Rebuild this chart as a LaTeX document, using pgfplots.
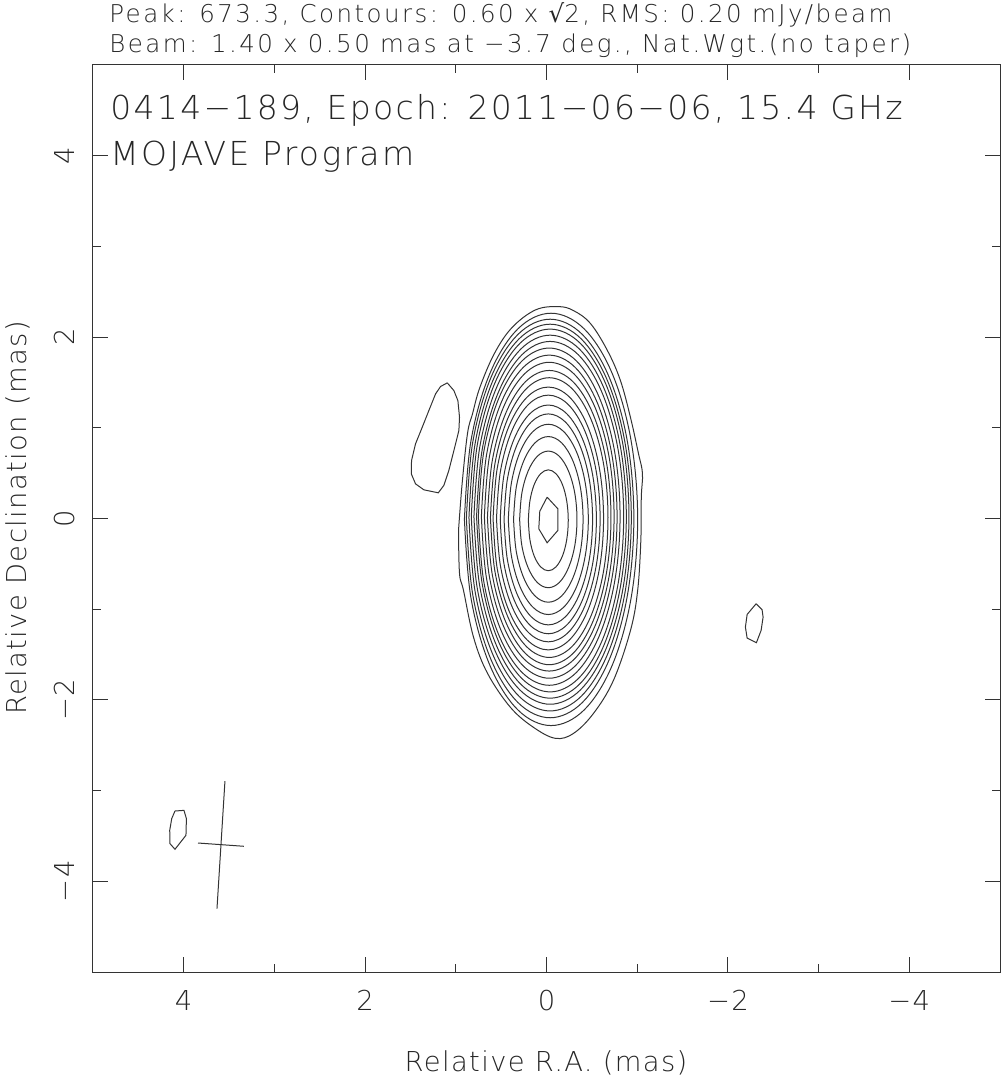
\documentclass[border=0pt]{standalone}
\usepackage{pgfplots}
\pgfplotsset{compat=1.18}
\usepackage{graphicx}
\usepackage{fontspec}
\setmainfont{DejaVu Sans ExtraLight}
\newfontfamily\djv{DejaVu Sans}
\newcommand{\topfont}{\fontsize{12.25pt}{15pt}\selectfont\addfontfeatures{LetterSpace=10}}
\newcommand{\bigfont}{\fontsize{16.5pt}{20pt}\selectfont\addfontfeatures{LetterSpace=7}}
\newcommand{\labfont}{\fontsize{13.7pt}{16pt}\selectfont\addfontfeatures{LetterSpace=5}}
\begin{document}
\begin{tikzpicture}
\useasboundingbox (-46.5pt,-53.5pt) rectangle (454pt,486pt);
\begin{axis}[
  at={(0pt,0pt)}, anchor=south west,
  scale only axis, width=453.5pt, height=453.5pt,
  xmin=-5, xmax=5, ymin=-5, ymax=5, x dir=reverse,
  xtick={-4,-2,0,2,4}, ytick={-4,-2,0,2,4},
  xticklabels={−4,−2,0,2,4},
  yticklabels={\rotatebox{90}{−4},\rotatebox{90}{−2},\rotatebox{90}{0},\rotatebox{90}{2},\rotatebox{90}{4}},
  minor xtick={-3,-1,1,3}, minor ytick={-3,-1,1,3},
  major tick length=7.5pt, minor tick length=4pt,
  tick style={black!80, line width=0.5pt},
  axis line style={black!80, line width=0.5pt},
  xticklabel style={font=\labfont, inner sep=0pt, anchor=north, yshift=-9pt, text=black!85},
  yticklabel style={font=\labfont, inner sep=0pt, anchor=east, xshift=-9pt, text=black!85},
  cont/.style={smooth, tension=0.6, black!80, line width=0.5pt},
  sharpc/.style={sharp plot, black!80, line width=0.5pt},
]
% outermost contour
\addplot[cont] coordinates {(0.970,-0.132) (0.930,0.386) (0.871,0.937) (0.815,1.157) (0.735,1.444) (0.575,1.818) (0.380,2.105) (0.120,2.300) (-0.132,2.336) (-0.298,2.292) (-0.485,2.149) (-0.672,1.851) (-0.815,1.521) (-0.926,1.113) (-1.014,0.716) (-1.058,0.496) (-1.045,0.231) (-1.040,-0.242) (-1.005,-0.793) (-0.926,-1.234) (-0.738,-1.785) (-0.518,-2.149) (-0.298,-2.369) (-0.099,-2.424) (0.143,-2.303) (0.397,-2.083) (0.650,-1.708) (0.804,-1.311) (0.915,-0.793) (0.959,-0.606) (0.970,-0.132)};
% n1
\addplot[cont] coordinates {(.905,-.01) (.832,.861) (.625,1.597) (.316,2.090) (-.05,2.263) (-.416,2.090) (-.725,1.597) (-.932,.861) (-1.005,-.01) (-.932,-.881) (-.725,-1.617) (-.416,-2.110) (-.05,-2.283) (.316,-2.110) (.625,-1.617) (.832,-.881) (.905,-.01)};
% n2
\addplot[cont] coordinates {(.883,0) (.813,.841) (.613,1.553) (.314,2.030) (-.04,2.197) (-.394,2.030) (-.693,1.553) (-.893,.841) (-.963,0) (-.893,-.841) (-.693,-1.553) (-.394,-2.030) (-.04,-2.197) (.314,-2.030) (.613,-1.553) (.813,-.841) (.883,0)};
% n3
\addplot[cont] coordinates {(.855,.01) (.787,.827) (.593,1.517) (.303,1.980) (-.04,2.142) (-.383,1.980) (-.673,1.517) (-.867,.827) (-.935,.01) (-.867,-.807) (-.673,-1.497) (-.383,-1.960) (-.04,-2.122) (.303,-1.960) (.593,-1.497) (.787,-.807) (.855,.01)};
% n4
\addplot[cont] coordinates {(.829,.02) (.763,.812) (.574,1.482) (.293,1.931) (-.04,2.088) (-.373,1.931) (-.654,1.482) (-.843,.812) (-.909,.02) (-.843,-.772) (-.654,-1.442) (-.373,-1.891) (-.04,-2.048) (.293,-1.891) (.574,-1.442) (.763,-.772) (.829,.02)};
% n5
\addplot[cont] coordinates {(.800,.02) (.736,.786) (.554,1.435) (.282,1.869) (-.04,2.021) (-.362,1.869) (-.634,1.435) (-.816,.786) (-.880,.02) (-.816,-.746) (-.634,-1.395) (-.362,-1.829) (-.04,-1.981) (.282,-1.829) (.554,-1.395) (.736,-.746) (.800,.02)};
% n6
\addplot[cont] coordinates {(.771,.02) (.709,.760) (.533,1.386) (.271,1.805) (-.04,1.952) (-.351,1.805) (-.613,1.386) (-.789,.760) (-.851,.02) (-.789,-.720) (-.613,-1.346) (-.351,-1.765) (-.04,-1.912) (.271,-1.765) (.533,-1.346) (.709,-.720) (.771,.02)};
% n7
\addplot[cont] coordinates {(.751,.02) (.692,.732) (.522,1.334) (.269,1.738) (-.03,1.879) (-.329,1.738) (-.582,1.334) (-.752,.732) (-.811,.02) (-.752,-.692) (-.582,-1.294) (-.329,-1.698) (-.03,-1.839) (.269,-1.698) (.522,-1.294) (.692,-.692) (.751,.02)};
% n8
\addplot[cont] coordinates {(.718,.02) (.661,.702) (.499,1.279) (.256,1.666) (-.03,1.801) (-.316,1.666) (-.559,1.279) (-.721,.702) (-.778,.02) (-.721,-.662) (-.559,-1.239) (-.316,-1.626) (-.03,-1.761) (.256,-1.626) (.499,-1.239) (.661,-.662) (.718,.02)};
% n9
\addplot[cont] coordinates {(.685,.02) (.631,.672) (.476,1.223) (.244,1.593) (-.03,1.722) (-.304,1.593) (-.536,1.223) (-.691,.672) (-.745,.02) (-.691,-.632) (-.536,-1.183) (-.304,-1.553) (-.03,-1.682) (.244,-1.553) (.476,-1.183) (.631,-.632) (.685,.02)};
% n10
\addplot[cont] coordinates {(.651,.01) (.599,.631) (.451,1.157) (.231,1.509) (-.03,1.632) (-.291,1.509) (-.511,1.157) (-.659,.631) (-.711,.01) (-.659,-.611) (-.511,-1.137) (-.291,-1.489) (-.03,-1.612) (.231,-1.489) (.451,-1.137) (.599,-.611) (.651,.01)};
% n11
\addplot[cont] coordinates {(.618,.01) (.569,.601) (.428,1.100) (.218,1.435) (-.03,1.552) (-.278,1.435) (-.488,1.100) (-.629,.601) (-.678,.01) (-.629,-.581) (-.488,-1.080) (-.278,-1.415) (-.03,-1.532) (.218,-1.415) (.428,-1.080) (.569,-.581) (.618,.01)};
% n12
\addplot[cont] coordinates {(.589,0) (.543,.555) (.411,1.024) (.213,1.339) (-.02,1.449) (-.253,1.339) (-.451,1.024) (-.583,.555) (-.629,0) (-.583,-.555) (-.451,-1.024) (-.253,-1.339) (-.02,-1.449) (.213,-1.339) (.411,-1.024) (.543,-.555) (.589,0)};
% n13
\addplot[cont] coordinates {(.551,0) (.508,.521) (.384,.962) (.199,1.257) (-.02,1.360) (-.239,1.257) (-.424,.962) (-.548,.521) (-.591,0) (-.548,-.521) (-.424,-.962) (-.239,-1.257) (-.02,-1.360) (.199,-1.257) (.384,-.962) (.508,-.521) (.551,0)};
% n14
\addplot[cont] coordinates {(.510,-.01) (.470,.473) (.355,.882) (.183,1.155) (-.02,1.251) (-.223,1.155) (-.395,.882) (-.510,.473) (-.550,-.01) (-.510,-.493) (-.395,-.902) (-.223,-1.175) (-.02,-1.271) (.183,-1.175) (.355,-.902) (.470,-.493) (.510,-.01)};
% n15
\addplot[cont] coordinates {(.468,-.01) (.431,.435) (.325,.812) (.167,1.065) (-.02,1.153) (-.207,1.065) (-.365,.812) (-.471,.435) (-.508,-.01) (-.471,-.455) (-.365,-.832) (-.207,-1.085) (-.02,-1.173) (.167,-1.085) (.325,-.832) (.431,-.455) (.468,-.01)};
% n16
\addplot[cont] coordinates {(.421,-.01) (.387,.392) (.292,.732) (.149,.959) (-.02,1.039) (-.189,.959) (-.332,.732) (-.427,.392) (-.461,-.01) (-.427,-.412) (-.332,-.752) (-.189,-.979) (-.02,-1.059) (.149,-.979) (.292,-.752) (.387,-.412) (.421,-.01)};
% n17
\addplot[cont] coordinates {(.363,-.01) (.334,.340) (.251,.635) (.127,.834) (-.02,.903) (-.167,.834) (-.291,.635) (-.374,.340) (-.403,-.01) (-.374,-.360) (-.291,-.655) (-.167,-.854) (-.02,-.923) (.127,-.854) (.251,-.655) (.334,-.360) (.363,-.01)};
% n18
\addplot[cont] coordinates {(.296,-.01) (.272,.278) (.203,.522) (.101,.686) (-.02,.743) (-.141,.686) (-.243,.522) (-.312,.278) (-.336,-.01) (-.312,-.298) (-.243,-.542) (-.141,-.706) (-.02,-.763) (.101,-.706) (.203,-.542) (.272,-.298) (.296,-.01)};
% n19
\addplot[cont] coordinates {(.200,-.02) (.183,.193) (.136,.373) (.064,.494) (-.02,.536) (-.104,.494) (-.176,.373) (-.223,.193) (-.240,-.02) (-.223,-.233) (-.176,-.413) (-.104,-.534) (-.02,-.576) (.064,-.534) (.136,-.413) (.183,-.233) (.200,-.02)};
% n20 (innermost)
\addplot[sharpc] coordinates {(-0.007,0.235) (-0.125,0.107) (-0.125,-0.132) (-0.007,-0.268) (0.085,-0.114) (0.074,0.080) (-0.007,0.235)};
% blob upper left
\addplot[sharpc] coordinates {(1.094,1.495) (1.021,1.410) (0.977,1.300) (0.959,1.116) (0.966,0.970) (1.021,0.749) (1.077,0.529) (1.132,0.364) (1.193,0.283) (1.352,0.316) (1.444,0.382) (1.491,0.493) (1.488,0.639) (1.444,0.823) (1.370,1.006) (1.297,1.190) (1.223,1.374) (1.168,1.455) (1.094,1.495)};
% blob right
\addplot[sharpc] coordinates {(-2.311,-0.940) (-2.377,-1.006) (-2.388,-1.088) (-2.366,-1.234) (-2.314,-1.370) (-2.212,-1.319) (-2.193,-1.198) (-2.212,-1.058) (-2.311,-0.940)};
% blob lower left
\addplot[sharpc] coordinates {(4.096,-3.225) (3.997,-3.218) (3.970,-3.309) (3.975,-3.493) (4.096,-3.647) (4.151,-3.585) (4.154,-3.438) (4.132,-3.309) (4.096,-3.225)};
% beam cross
\addplot[sharpc] coordinates {(3.545,-2.895) (3.633,-4.301)};
\addplot[sharpc] coordinates {(3.842,-3.578) (3.336,-3.614)};
\end{axis}
\node[anchor=base west, inner sep=0pt, text=black!85, font=\topfont] at (8pt,474.5pt) {Peak: 673.3, Contours: 0.60 x {\djv\addfontfeatures{LetterSpace=10}√}2, RMS: 0.20 mJy/beam};
\node[anchor=base west, inner sep=0pt, text=black!85, font=\topfont] at (8pt,459.5pt) {Beam: 1.40 x 0.50 mas at −3.7 deg., Nat.Wgt.(no taper)};
\node[anchor=base west, inner sep=0pt, text=black!85, font=\bigfont] at (8.5pt,426pt) {0414−189, Epoch: 2011−06−06, 15.4 GHz};
\node[anchor=base west, inner sep=0pt, text=black!85, font=\bigfont] at (8.5pt,403pt) {MOJAVE Program};
\node[anchor=base, inner sep=0pt, text=black!85, font=\labfont] at (226.5pt,-49.5pt) {Relative R.A. (mas)};
\node[anchor=base, rotate=90, inner sep=0pt, text=black!85, font=\labfont] at (-33pt,227pt) {Relative Declination (mas)};
\end{tikzpicture}
\end{document}
